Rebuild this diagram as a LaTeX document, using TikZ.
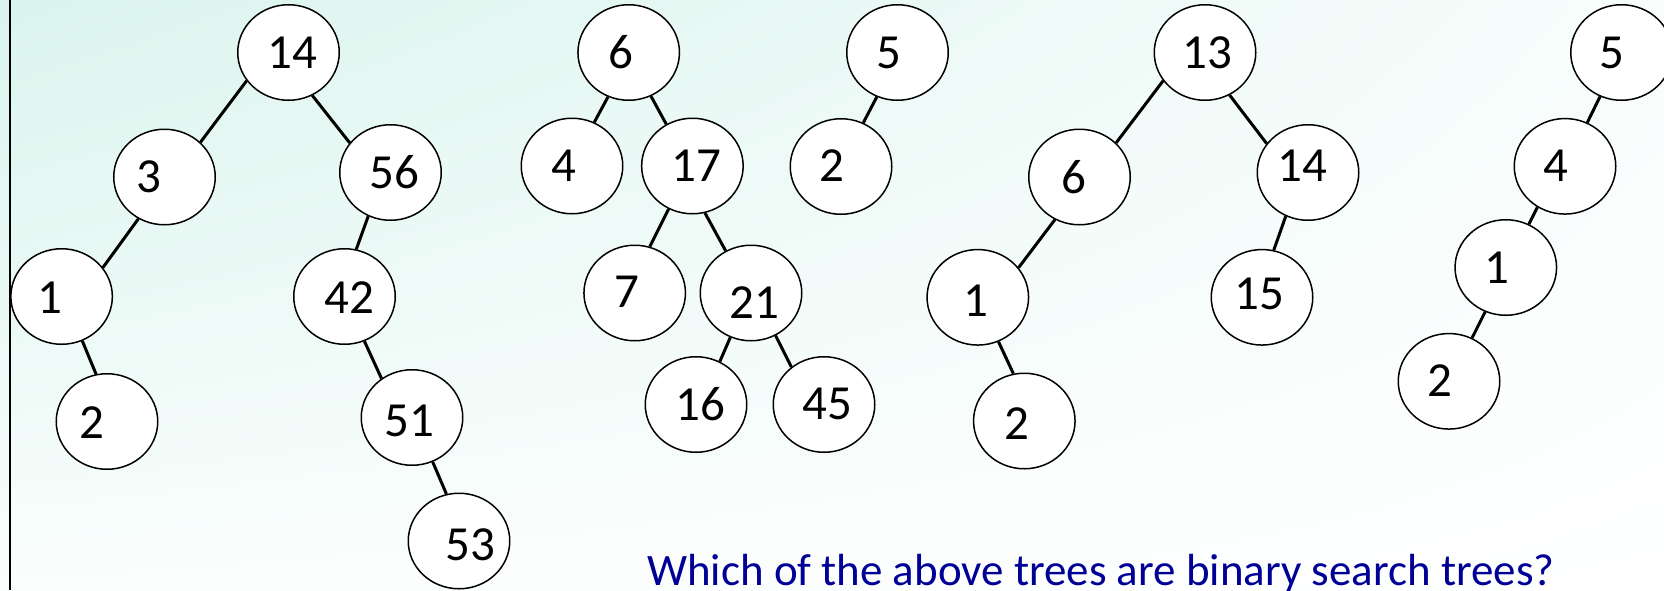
\documentclass[tikz,border=0pt]{standalone}
\usepackage{fontspec}
\setmainfont{Carlito}
\usetikzlibrary{shapes.geometric,shadings}
\definecolor{mintTL}{RGB}{218,244,237}
\definecolor{mintTR}{RGB}{248,253,252}
\definecolor{mintBL}{RGB}{250,254,253}
\definecolor{question}{RGB}{0,0,150}
\newcommand\numfont{\fontsize{49}{58}\selectfont}
\newcommand\askfont{\fontsize{45}{54}\selectfont}
\begin{document}
\begin{tikzpicture}[x=1pt,y=-1pt,
  bst/.style={ellipse, draw=black, line width=1.5pt, fill=white,
    minimum width=101.5pt, minimum height=95.5pt, inner sep=0pt},
  num/.style={font=\numfont, inner sep=0pt, text=black},
  edge/.style={line width=3pt, black}]
\useasboundingbox (0,0) rectangle (1664,590);
% slide background and left rule
\shade[upper left=mintTL, upper right=mintTR, lower left=mintBL, lower right=white]
  (0,0) rectangle (1664,590);
\draw[line width=2.5pt] (10,0) -- (10,590);

% ---- tree 1 ----
\node[bst] (t1n14) at (288.5,52.5) {};
\node[bst] (t1n3)  at (164.5,177) {};
\node[bst] (t1n56) at (390.5,172.5) {};
\node[bst] (t1n1)  at (61.6,296.5) {};
\node[bst] (t1n2)  at (107,421.5) {};
\node[bst] (t1n42) at (344.5,296.5) {};
\node[bst] (t1n51) at (412,417.5) {};
\node[bst] (t1n53) at (459,541) {};
\node[num] (t1l14) at (292.5,52.5) {14};
\node[num] (t1l3)  at (148.5,177) {3};
\node[num] (t1l56) at (394.5,172.5) {56};
\node[num] (t1l1)  at (50,298) {1};
\node[num] (t1l2)  at (92,422.5) {2};
\node[num] (t1l42) at (349,298) {42};
\node[num] (t1l51) at (409.5,420.8) {51};
\node[num] (t1l53) at (470.8,544.7) {53};
\draw[edge] (t1n14.214.8) -- (t1n3.44.8);
\draw[edge] (t1n14.299.7) -- (t1n56.144.2);
\draw[edge] (t1n3.238)    -- (t1n1.35.6);
\draw[edge] (t1n1.295.2)  -- (t1n2.103.2);
\draw[edge] (t1n56.243.3) -- (t1n42.76.3);
\draw[edge] (t1n42.294)   -- (t1n51.128.9);
\draw[edge] (t1n51.295.1) -- (t1n53.105.9);

% ---- tree 2 ----
\node[bst] (t2n6)  at (628.7,52.5) {};
\node[bst] (t2n4)  at (572,166) {};
\node[bst] (t2n17) at (692.4,166) {};
\node[bst] (t2n7)  at (634.7,293) {};
\node[bst] (t2n21) at (751,293) {};
\node[bst] (t2n16) at (696,404.5) {};
\node[bst] (t2n45) at (824,404.5) {};
\node[num] (t2l6)  at (620.5,52.5) {6};
\node[num] (t2l4)  at (564,166) {4};
\node[num] (t2l17) at (696,166) {17};
\node[num] (t2l7)  at (626.5,291.7) {7};
\node[num] (t2l21) at (754.3,302.7) {21};
\node[num] (t2l16) at (700.5,404) {16};
\node[num] (t2l45) at (827,404) {45};
\draw[edge] (t2n6.245.6)  -- (t2n4.63);
\draw[edge] (t2n6.297.9)  -- (t2n17.122);
\draw[edge] (t2n17.241)   -- (t2n7.72.7);
\draw[edge] (t2n17.285.2) -- (t2n21.121.2);
\draw[edge] (t2n21.245.9) -- (t2n16.61.7);
\draw[edge] (t2n21.300.2) -- (t2n45.131);

% ---- tree 3 ----
\node[bst] (t3n5) at (897.5,52.5) {};
\node[bst] (t3n2) at (841,166.5) {};
\node[num] (t3l5) at (888.5,52.5) {5};
\node[num] (t3l2) at (832,166) {2};
\draw[edge] (t3n5.245.4) -- (t3n2.63.2);

% ---- tree 4 ----
\node[bst] (t4n13) at (1205,52.5) {};
\node[bst] (t4n6)  at (1079.5,177) {};
\node[bst] (t4n14) at (1308,172.5) {};
\node[bst] (t4n1)  at (977.8,297.3) {};
\node[bst] (t4n15) at (1262,297.3) {};
\node[bst] (t4n2)  at (1024.3,421) {};
\node[num] (t4l13) at (1207,52.5) {13};
\node[num] (t4l6)  at (1074,177.5) {6};
\node[num] (t4l14) at (1302.4,166) {14};
\node[num] (t4l1)  at (976,300.8) {1};
\node[num] (t4l15) at (1259.7,294) {15};
\node[num] (t4l2)  at (1017,424) {2};
\draw[edge] (t4n13.214.8) -- (t4n6.43);
\draw[edge] (t4n13.300)   -- (t4n14.145);
\draw[edge] (t4n6.240)    -- (t4n1.36.2);
\draw[edge] (t4n14.243.6) -- (t4n15.76.6);
\draw[edge] (t4n1.295.8)  -- (t4n2.103.7);

% ---- tree 5 ----
\node[bst] (t5n5) at (1621.5,52.5) {};
\node[bst] (t5n4) at (1565,166.3) {};
\node[bst] (t5n1) at (1505.8,267.5) {};
\node[bst] (t5n2) at (1449,381.3) {};
\node[num] (t5l5) at (1612,52.5) {5};
\node[num] (t5l4) at (1555.5,165.8) {4};
\node[num] (t5l1) at (1497,267.5) {1};
\node[num] (t5l2) at (1439.7,380.8) {2};
\draw[edge] (t5n5.244.6) -- (t5n4.63);
\draw[edge] (t5n4.236)   -- (t5n1.62.3);
\draw[edge] (t5n1.245.6) -- (t5n2.62.8);

% ---- question ----
\node[anchor=base west, inner sep=0pt, font=\askfont, text=question] (ask) at (647,585)
  {Which of the above trees are binary search trees?};
\end{tikzpicture}
\end{document}
